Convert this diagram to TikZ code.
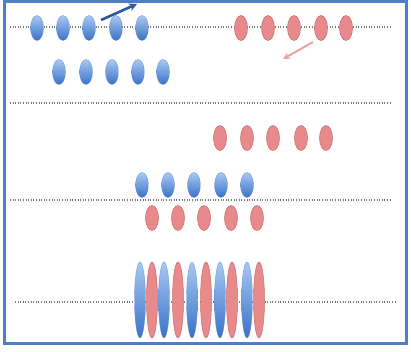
\documentclass[tikz,border=0pt]{standalone}
\usepackage{tikz}
\usetikzlibrary{shapes.geometric,arrows.meta}

\definecolor{frameblue}{HTML}{4F7FC4}
\definecolor{balltop}{HTML}{A8C8F2}
\definecolor{ballbottom}{HTML}{3A72C6}
\definecolor{redfill}{HTML}{E8898B}
\definecolor{redline}{HTML}{C86A6C}
\definecolor{dotgray}{HTML}{7A7A7A}

\tikzset{
	blueball/.style={ellipse,inner sep=0pt,minimum width=13pt,minimum height=25pt,top color=balltop,bottom color=ballbottom,draw=ballbottom!80,line width=0.3pt},
	redball/.style={ellipse,inner sep=0pt,minimum width=13pt,minimum height=25pt,fill=redfill,draw=redline,line width=0.5pt},
	bluetall/.style={blueball,minimum width=11pt,minimum height=76pt},
	redtall/.style={redball,minimum width=11pt,minimum height=76pt},
	level/.style={dotgray,line width=1.1pt,dash pattern=on 1pt off 1.6pt}
}

\begin{document}
\begin{tikzpicture}[x=1pt,y=-1pt]
		\useasboundingbox (0,0) rectangle (411,351);
		\draw[frameblue,line width=2.5pt] (4.5,1.5) rectangle (406.5,343.5);

		% dotted levels
		\coordinate (l1a) at (10,27);  \coordinate (l1b) at (390,27);
		\coordinate (l2a) at (10,103); \coordinate (l2b) at (390,103);
		\coordinate (l3a) at (10,200); \coordinate (l3b) at (392,200);
		\coordinate (l4a) at (15,302); \coordinate (l4b) at (395,302);
		\draw[level] (l1a) -- (l1b);
		\draw[level] (l2a) -- (l2b);
		\draw[level] (l3a) -- (l3b);
		\draw[level] (l4a) -- (l4b);

		% top row
		\foreach \x [count=\i] in {37,63,89,116,142}
			\node[blueball] (b1\i) at (\x,28) {};
		\foreach \x [count=\i] in {241,268,294,321,346}
			\node[redball] (r1\i) at (\x,28) {};
		\foreach \x [count=\i] in {59,86,112,138,163}
			\node[blueball] (b2\i) at (\x,72) {};

		% middle
		\foreach \x [count=\i] in {220,247,273,301,326}
			\node[redball] (r2\i) at (\x,138) {};
		\foreach \x [count=\i] in {142,168,194,221,247}
			\node[blueball] (b3\i) at (\x,185) {};
		\foreach \x [count=\i] in {152,178,204,231,257}
			\node[redball] (r3\i) at (\x,218) {};

		% bottom, interleaved
		\foreach \x [count=\i] in {140,164,192,220,247}
			\node[bluetall] (b4\i) at (\x,300) {};
		\foreach \x [count=\i] in {152,178,206,232,259}
			\node[redtall] (r4\i) at (\x,300) {};

		% motion arrows
		\coordinate (bluefrom) at (101,20); \coordinate (blueto) at (137,4);
		\coordinate (redfrom) at (313,42);  \coordinate (redto) at (283,59);
		\draw[-{Stealth[length=8pt,width=8pt]},line width=2.6pt,color=ballbottom!80!black] (bluefrom) -- (blueto);
		\draw[-{Stealth[length=7pt,width=7pt]},line width=2pt,color=redfill!80] (redfrom) -- (redto);
\end{tikzpicture}
\end{document}
